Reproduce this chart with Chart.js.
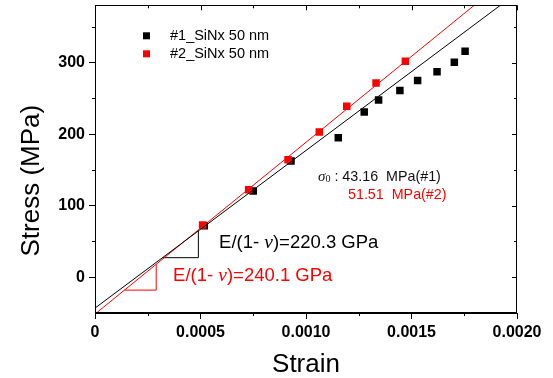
<!DOCTYPE html>
<html>
<head>
<meta charset="utf-8">
<script src="https://cdn.jsdelivr.net/npm/chart.js@4.4.0/dist/chart.umd.min.js"></script>
<style>
  html, body { margin: 0; padding: 0; background: #fff; }
  canvas { display: block; }
</style>
</head>
<body>
<canvas id="myChart" width="553" height="378"></canvas>
<script>
// measured points, sample #1 (black) and #2 (red)
const s1Strain = [0.000518, 0.00075, 0.000929, 0.001153, 0.001276, 0.001344, 0.001445, 0.001529, 0.001621, 0.001703, 0.001754];
const s1Stress = [72.1, 120.5, 162.3, 194.8, 231.0, 247.8, 260.8, 274.8, 287.3, 300.4, 315.7];
const s2Strain = [0.00051, 0.000728, 0.000915, 0.001063, 0.001193, 0.001332, 0.001471];
const s2Stress = [73.0, 122.3, 164.2, 202.8, 239.0, 271.5, 301.8];

// fitted lines (end points)
const fit1Strain = [0, 0.002];
const fit1Stress = [-43.16, 397.4];
const fit2Strain = [0, 0.002];
const fit2Stress = [-51.51, 428.7];

// slope triangles
const tri1Strain = [0.00032, 0.00049, 0.00049];
const tri1Stress = [27.3, 27.3, 64.8];
const tri2Strain = [0.00014, 0.00029, 0.00029];
const tri2Stress = [-18, -18, 17.9];

// ticks
const xTicks = [0, 0.0005, 0.001, 0.0015, 0.002];
const xMinor = [0.00025, 0.00075, 0.00125, 0.00175];
const yTicks = [0, 100, 200, 300];
const yMinor = [50, 150, 250, 350];

const seriesLabels = ['#1_SiNx 50 nm', '#2_SiNx 50 nm'];

const sans = 'Arial, "Liberation Sans", sans-serif';
const serif = '"Times New Roman", "Liberation Serif", serif';

function toXY(xs, ys) {
    let out = [];
    for (let i = 0; i < xs.length; i = i + 1) {
        out.push({ x: xs[i], y: ys[i] });
    }
    return out;
}

// draws pieces of text with different fonts one after another
function drawRuns(ctx, x, y, runs) {
    for (const r of runs) {
        ctx.font = r.font;
        ctx.fillStyle = r.color;
        ctx.fillText(r.text, x, y + (r.dy || 0));
        x = x + ctx.measureText(r.text).width;
    }
}

const extrasPlugin = {
    id: 'extras',
    afterDraw(chart) {
        const ctx = chart.ctx;
        const a = chart.chartArea;
        const xs = chart.scales.x;
        const ys = chart.scales.y;
        ctx.save();

        // frame
        ctx.strokeStyle = '#000';
        ctx.lineWidth = 1;
        ctx.strokeRect(Math.round(a.left) + 0.5, Math.round(a.top) + 0.5,
            Math.round(a.right - a.left) - 1, Math.round(a.bottom - a.top) - 1);

        // minor ticks outside, all ticks mirrored inside top/right
        ctx.beginPath();
        for (const v of xMinor) {
            const px = Math.round(xs.getPixelForValue(v)) + 0.5;
            ctx.moveTo(px, a.bottom); ctx.lineTo(px, a.bottom + 3);
            ctx.moveTo(px, a.top); ctx.lineTo(px, a.top + 3);
        }
        for (const v of xTicks) {
            const px = Math.round(xs.getPixelForValue(v)) + 0.5;
            ctx.moveTo(px, a.top); ctx.lineTo(px, a.top + 5);
        }
        for (const v of yMinor) {
            const py = Math.round(ys.getPixelForValue(v)) + 0.5;
            ctx.moveTo(a.left, py); ctx.lineTo(a.left - 3, py);
            ctx.moveTo(a.right, py); ctx.lineTo(a.right - 3, py);
        }
        for (const v of yTicks) {
            const py = Math.round(ys.getPixelForValue(v)) + 0.5;
            ctx.moveTo(a.right, py); ctx.lineTo(a.right - 5, py);
        }
        ctx.stroke();

        // y title
        ctx.save();
        ctx.translate(a.left - 63.5, (a.top + a.bottom) / 2 + 21.5);
        ctx.rotate(-Math.PI / 2);
        ctx.font = '26px ' + sans;
        ctx.fillStyle = '#000';
        ctx.textAlign = 'center';
        ctx.textBaseline = 'middle';
        ctx.fillText('Stress (MPa)', 0, 0);
        ctx.restore();

        // legend
        ctx.textBaseline = 'middle';
        const legendColors = ['#000000', '#ff0000'];
        for (let i = 0; i < seriesLabels.length; i = i + 1) {
            const ly = a.top + 30.5 + i * 18;
            ctx.fillStyle = legendColors[i];
            ctx.fillRect(a.left + 48, ly - 3.5, 7, 7);
            ctx.fillStyle = '#000';
            ctx.font = '14.5px ' + sans;
            ctx.fillText(seriesLabels[i], a.left + 75, ly);
        }

        // annotations
        const px = v => xs.getPixelForValue(v);
        const py = v => ys.getPixelForValue(v);
        drawRuns(ctx, px(0.000588), py(48.4), [
            { text: 'E/(1- ', font: '18.5px ' + sans, color: '#000' },
            { text: 'ν', font: 'italic 19.5px ' + serif, color: '#000' },
            { text: ')=220.3 GPa', font: '18.5px ' + sans, color: '#000' }
        ]);
        drawRuns(ctx, px(0.00037), py(2.4), [
            { text: 'E/(1- ', font: '18.5px ' + sans, color: '#ff0000' },
            { text: 'ν', font: 'italic 19.5px ' + serif, color: '#ff0000' },
            { text: ')=240.1 GPa', font: '18.5px ' + sans, color: '#ff0000' }
        ]);
        drawRuns(ctx, px(0.001057), py(140.4), [
            { text: 'σ', font: 'italic 15px ' + serif, color: '#111' },
            { text: '0', font: '10px ' + serif, color: '#111', dy: 3 },
            { text: ' : 43.16  MPa(#1)', font: '14.3px ' + sans, color: '#111' }
        ]);
        drawRuns(ctx, px(0.001199), py(115.3), [
            { text: '51.51  MPa(#2)', font: '14.3px ' + sans, color: '#ff0000' }
        ]);

        ctx.restore();
    }
};

const ctx = document.getElementById('myChart').getContext('2d');
const myChart = new Chart(ctx, {
    type: 'scatter',
    data: {
        datasets: [
            {
                label: 'fit #1',
                type: 'line',
                data: toXY(fit1Strain, fit1Stress),
                borderColor: '#000000',
                borderWidth: 1,
                pointRadius: 0,
                order: 0
            },
            {
                label: 'fit #2',
                type: 'line',
                data: toXY(fit2Strain, fit2Stress),
                borderColor: '#ff0000',
                borderWidth: 1,
                pointRadius: 0,
                order: 1
            },
            {
                label: seriesLabels[1],
                data: toXY(s2Strain, s2Stress),
                backgroundColor: '#ff0000',
                borderWidth: 0,
                pointStyle: 'rect',
                pointRadius: 5.3,
                order: 2
            },
            {
                label: seriesLabels[0],
                data: toXY(s1Strain, s1Stress),
                backgroundColor: '#000000',
                borderWidth: 0,
                pointStyle: 'rect',
                pointRadius: 5.3,
                order: 3
            },
            {
                label: 'slope #1',
                type: 'line',
                data: toXY(tri1Strain, tri1Stress),
                borderColor: '#000000',
                borderWidth: 1,
                pointRadius: 0,
                order: 4
            },
            {
                label: 'slope #2',
                type: 'line',
                data: toXY(tri2Strain, tri2Stress),
                borderColor: '#ff0000',
                borderWidth: 1,
                pointRadius: 0,
                order: 5
            }
        ]
    },
    options: {
        responsive: false,
        animation: false,
        events: [],
        layout: { padding: { top: 4, right: 36, left: 0, bottom: 0 } },
        plugins: {
            legend: { display: false },
            tooltip: { enabled: false }
        },
        scales: {
            x: {
                type: 'linear',
                min: 0,
                max: 0.002,
                afterBuildTicks: s => { s.ticks = xTicks.map(v => ({ value: v })); },
                afterFit: s => { s.height = 65; s.paddingLeft = 0; s.paddingRight = 0; },
                ticks: {
                    color: '#000',
                    font: { family: sans, size: 16, weight: 'bold' },
                    padding: 4,
                    maxRotation: 0,
                    callback: v => v === 0 ? '0' : v.toFixed(4)
                },
                grid: { drawOnChartArea: false, tickLength: 6, color: '#000' },
                border: { color: '#000', width: 1 },
                title: {
                    display: true,
                    text: 'Strain',
                    color: '#000',
                    font: { family: sans, size: 26 },
                    padding: { top: 0, bottom: -2 }
                }
            },
            y: {
                type: 'linear',
                min: -50,
                max: 380,
                afterBuildTicks: s => { s.ticks = yTicks.map(v => ({ value: v })); },
                afterFit: s => { s.width = 95; s.paddingTop = 0; s.paddingBottom = 0; },
                ticks: {
                    color: '#000',
                    font: { family: sans, size: 16, weight: 'bold' },
                    padding: 4
                },
                grid: { drawOnChartArea: false, tickLength: 6, color: '#000' },
                border: { color: '#000', width: 1 }
            }
        }
    },
    plugins: [extrasPlugin]
});
</script>
</body>
</html>
